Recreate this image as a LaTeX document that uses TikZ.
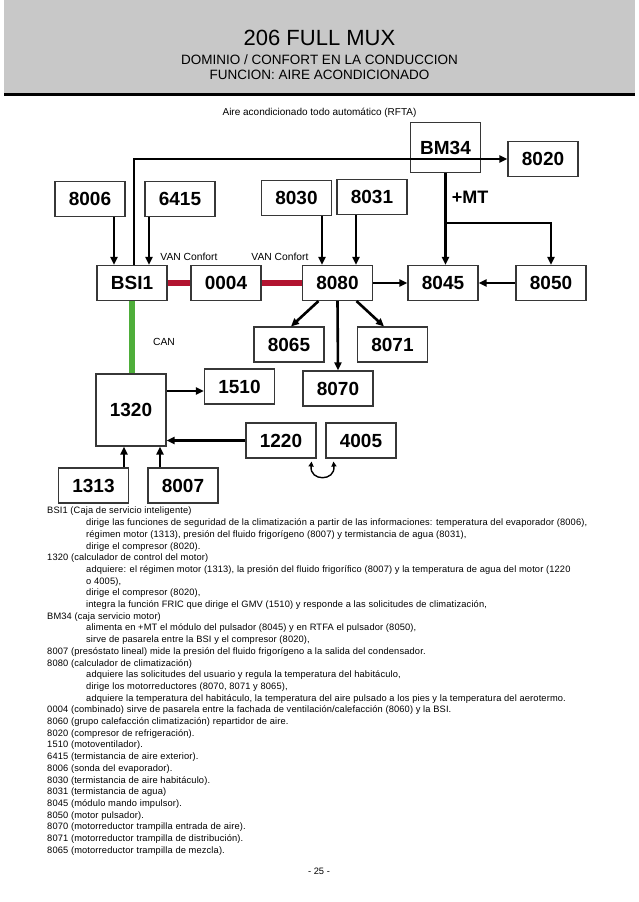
\documentclass[tikz,border=0pt]{standalone}
\usepackage{fontspec}
\setmainfont{Liberation Sans}
\usetikzlibrary{arrows.meta,calc}
\definecolor{hdr}{RGB}{200,200,200}
\definecolor{vanred}{RGB}{178,20,48}
\definecolor{cangreen}{RGB}{78,174,58}
\definecolor{boxline}{RGB}{55,55,55}
\newcommand{\myind}{\hspace*{39pt}}
\begin{document}
\begin{tikzpicture}[x=1pt,y=-1pt,
  box/.style={draw=boxline,line width=1.1pt,fill=white,minimum width=70pt,minimum height=35pt,inner sep=0pt,font=\fontsize{19}{19}\selectfont\bfseries},
  arr/.style={line width=2.6pt,-{Triangle[length=8pt,width=7pt]}},
  lbl/.style={font=\fontsize{10.3}{11}\selectfont,inner sep=0pt}]
\useasboundingbox (0,0) rectangle (638,902);
% header
\fill[hdr] (4,0) rectangle (635,93);
\fill[black] (4,93) rectangle (635,95.5);
\node[inner sep=0pt] (title) at (319.5,38) {\fontsize{22}{24}\selectfont 206 FULL MUX};
\node[inner sep=0pt] (sub1) at (319.5,60) {\fontsize{13.5}{14}\selectfont DOMINIO / CONFORT EN LA CONDUCCION};
\node[inner sep=0pt] (sub2) at (319.5,75) {\fontsize{13.5}{14}\selectfont FUNCION: AIRE ACONDICIONADO};
\node[inner sep=0pt] (cap) at (319.5,113) {\fontsize{10}{11}\selectfont Aire acondicionado todo automático (RFTA)};
% boxes
\node[box,minimum height=50pt] (BM34) at (445.5,147.5) {BM34};
\node[box] (n8020) at (543,159) {8020};
\node[box] (n8006) at (90,199) {8006};
\node[box] (n6415) at (180,199) {6415};
\node[box] (n8030) at (296.5,198) {8030};
\node[box] (n8031) at (372,197) {8031};
\node[box] (BSI1) at (132,283) {BSI1};
\node[box] (n0004) at (226,283) {0004};
\node[box] (n8080) at (337.5,283) {8080};
\node[box] (n8045) at (443,283) {8045};
\node[box] (n8050) at (551,283) {8050};
\node[box] (n8065) at (289,344.5) {8065};
\node[box] (n8071) at (392.5,344.5) {8071};
\node[box] (n8070) at (338,388.5) {8070};
\node[box] (n1510) at (239.5,386.5) {1510};
\node[box,minimum height=72pt] (n1320) at (131,410) {1320};
\node[box] (n1220) at (281,440.5) {1220};
\node[box] (n4005) at (361,440.5) {4005};
\node[box] (n1313) at (93.5,485.5) {1313};
\node[box] (n8007) at (183,485.5) {8007};
% labels
\node[lbl] (van1) at (189,256.5) {VAN Confort};
\node[lbl] (van2) at (280,256.5) {VAN Confort};
\node[lbl] (can) at (164,342) {CAN};
\node[inner sep=0pt,font=\fontsize{18}{18}\selectfont\bfseries] (mt) at (470,197) {+MT};
% helper coordinates
\coordinate (s8006) at ($(n8006.south)+(24,0)$);
\coordinate (s6415) at ($(n6415.south)+(-31,0)$);
\coordinate (s8030) at ($(n8030.south)+(25.5,0)$);
\coordinate (s8031) at ($(n8031.south)+(-16,0)$);
\coordinate (tBSI) at ($(BSI1.north)+(2,0)$);
\coordinate (br) at ($(BM34.south)+(0,50)$);
\coordinate (w1510) at ($(n1510.west)+(0,4.5)$);
\coordinate (n1313a) at ($(n1313.north)+(30.5,0)$);
\coordinate (n8007a) at ($(n8007.north)+(-23,0)$);
% connectors
\draw[arr] (tBSI) |- (n8020.west);
\draw[arr] (s8006) -- (s8006 |- BSI1.north);
\draw[arr] (s6415) -- (s6415 |- BSI1.north);
\draw[arr] (s8030) -- (s8030 |- n8080.north);
\draw[arr] (s8031) -- (s8031 |- n8080.north);
\draw[arr] (BM34.south) -- (BM34.south |- n8045.north);
\draw[arr] (br) -| (n8050.north);
\draw[arr] (n8080.east) -- (n8045.west);
\draw[arr] (n8050.west) -- (n8045.east);
\draw[arr] ($(n8080.south)+(-19,0)$) -- ($(n8065.north)+(2,0)$);
\draw[arr] (n8080.south) -- (n8070.north);
\draw[arr] ($(n8080.south)+(19,0)$) -- ($(n8071.north)+(-8.5,0)$);
\draw[line width=5.5pt,vanred] (BSI1.east) -- (n0004.west);
\draw[line width=5.5pt,vanred] (n0004.east) -- (n8080.west);
\draw[line width=6pt,cangreen] (BSI1.south) -- (BSI1.south |- n1320.north);
\draw[arr] (w1510 -| n1320.east) -- (w1510);
\draw[arr] (n1220.west) -- (n1220.west -| n1320.east);
\draw[arr] (n1313a) -- (n1313a |- n1320.south);
\draw[arr] (n8007a) -- (n8007a |- n1320.south);
\coordinate (ca) at ($(n1220.south east)+(-5,3)$);
\coordinate (cb) at ($(n4005.south west)+(8,3)$);
\draw[line width=1.4pt,{Triangle[length=5pt,width=5pt]}-{Triangle[length=5pt,width=5pt]}] (ca) .. controls ($(ca)+(-2,20)$) and ($(cb)+(2,20)$) .. (cb);
% body text
\node[anchor=north west,inner sep=0pt,align=left,font=\fontsize{9.3}{11.7}\selectfont\addfontfeature{LetterSpace=1.5}] (body) at (47,507) {%
BSI1 (Caja de servicio inteligente)\\
\myind dirige las funciones de seguridad de la climatización a partir de las informaciones: temperatura del evaporador (8006),\\
\myind régimen motor (1313), presión del fluido frigorígeno (8007) y termistancia de agua (8031),\\
\myind dirige el compresor (8020).\\
1320 (calculador de control del motor)\\
\myind adquiere: el régimen motor (1313), la presión del fluido frigorífico (8007) y la temperatura de agua del motor (1220\\
\myind o 4005),\\
\myind dirige el compresor (8020),\\
\myind integra la función FRIC que dirige el GMV (1510) y responde a las solicitudes de climatización,\\
BM34 (caja servicio motor)\\
\myind alimenta en +MT el módulo del pulsador (8045) y en RTFA el pulsador (8050),\\
\myind sirve de pasarela entre la BSI y el compresor (8020),\\
8007 (presóstato lineal) mide la presión del fluido frigorígeno a la salida del condensador.\\
8080 (calculador de climatización)\\
\myind adquiere las solicitudes del usuario y regula la temperatura del habitáculo,\\
\myind dirige los motorreductores (8070, 8071 y 8065),\\
\myind adquiere la temperatura del habitáculo, la temperatura del aire pulsado a los pies y la temperatura del aerotermo.\\
0004 (combinado) sirve de pasarela entre la fachada de ventilación/calefacción (8060) y la BSI.\\
8060 (grupo calefacción climatización) repartidor de aire.\\
8020 (compresor de refrigeración).\\
1510 (motoventilador).\\
6415 (termistancia de aire exterior).\\
8006 (sonda del evaporador).\\
8030 (termistancia de aire habitáculo).\\
8031 (termistancia de agua)\\
8045 (módulo mando impulsor).\\
8050 (motor pulsador).\\
8070 (motorreductor trampilla entrada de aire).\\
8071 (motorreductor trampilla de distribución).\\
8065 (motorreductor trampilla de mezcla).};
\node[inner sep=0pt,font=\fontsize{9.3}{10}\selectfont] (page) at (319,871) {- 25 -};
\end{tikzpicture}
\end{document}
